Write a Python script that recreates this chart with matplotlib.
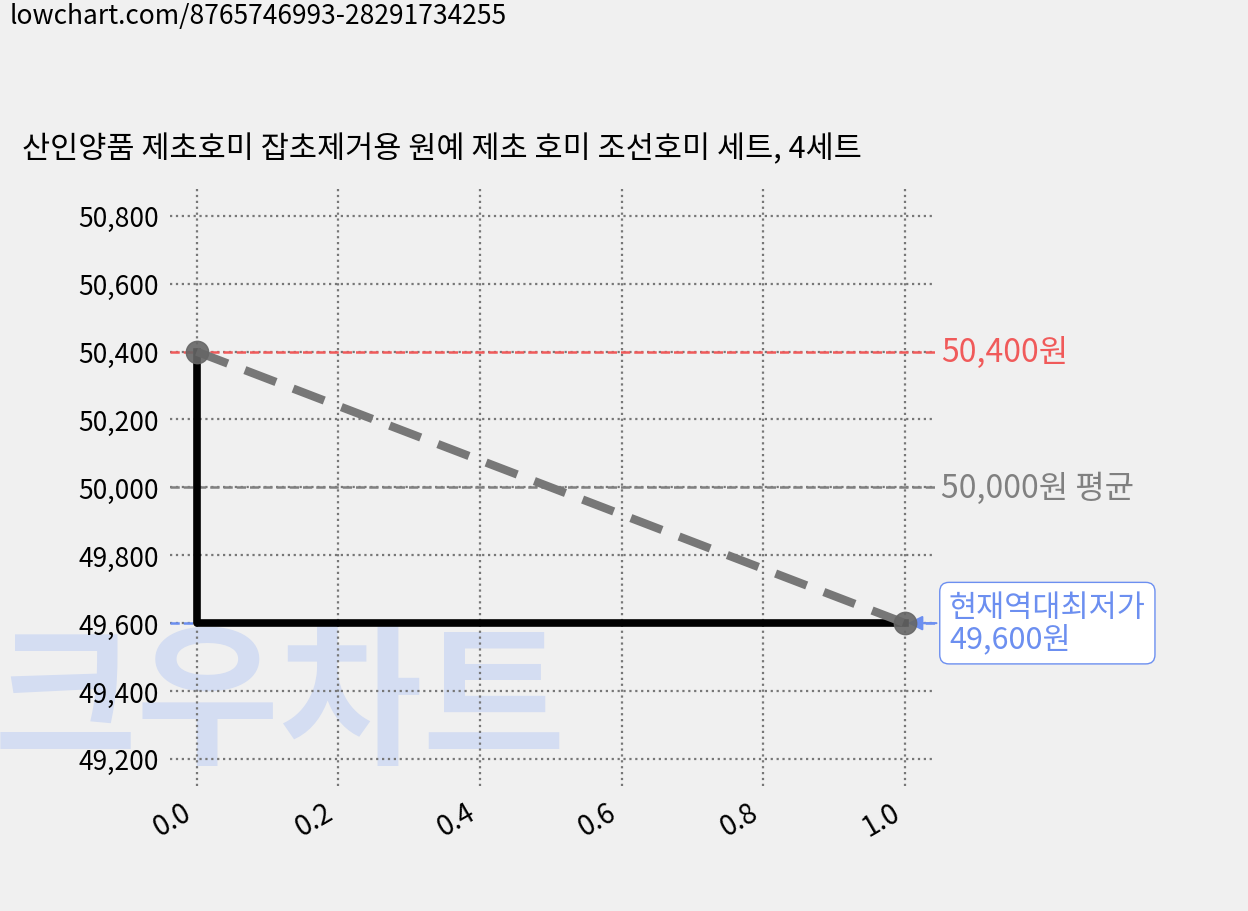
import matplotlib
matplotlib.use("Agg")
import matplotlib.pyplot as plt
from matplotlib.ticker import FuncFormatter

plt.rcParams['font.family'] = ['Noto Sans CJK KR', 'DejaVu Sans']

title = "산인양품 제초호미 잡초제거용 원예 제초 호미 조선호미 세트, 4세트"
url = "lowchart.com/8765746993-28291734255"
x_vals = [0.0, 1.0]
prices = [50400, 49600]
max_price = 50400
avg_price = 50000
min_price = 49600
yticks = [49200, 49400, 49600, 49800, 50000, 50200, 50400, 50600, 50800]
xticks = [0.0, 0.2, 0.4, 0.6, 0.8, 1.0]

bg = "#f0f0f0"
fig = plt.figure(figsize=(12.48, 9.12), dpi=100, facecolor=bg)
ax = fig.add_axes([0.136, 0.137, 0.613, 0.655], facecolor='none', zorder=2)

fig.text(0.008, 0.982, url, fontsize=19, va='center', ha='left')
fig.text(0.018, 0.836, title, fontsize=22, va='center', ha='left')
fig.text(-0.005, 0.225, "크우차트", fontsize=112, fontweight='black', color='#d4ddf2',
         va='center', ha='left', zorder=0, style='italic')

ax.grid(True, linestyle=':', color='#777777', linewidth=1.6)
for s in ax.spines.values():
    s.set_visible(False)
ax.tick_params(length=0, labelsize=19, pad=8)

ax.axhline(max_price, color='#f05a5a', linestyle='--', lw=1.8, zorder=2)
ax.axhline(avg_price, color='#808080', linestyle='--', lw=1.8, zorder=2)
ax.axhline(min_price, color='#6c8ff0', linestyle='--', lw=1.8, zorder=2)

ax.plot([x_vals[0], x_vals[0], x_vals[1]], [prices[0], prices[1], prices[1]],
        color='black', lw=5.5, zorder=3)
ax.plot(x_vals, prices, color='#777777', lw=6, linestyle=(0, (4, 2.2)), zorder=4)
ax.scatter(x_vals, prices, s=260, color='#666666', alpha=0.9, zorder=5)

ax.set_xlim(-0.038, 1.042)
ax.set_ylim(49120, 50880)
ax.set_yticks(yticks)
ax.set_xticks(xticks)
ax.yaxis.set_major_formatter(FuncFormatter(lambda v, p: f"{int(v):,}"))
ax.xaxis.set_major_formatter(FuncFormatter(lambda v, p: f"{v:.1f}"))
for lbl in ax.get_xticklabels():
    lbl.set_rotation(30)
    lbl.set_ha('right')
    lbl.set_fontsize(20)

ax.annotate(f"{max_price:,}원", xy=(1.008, max_price), xycoords=('axes fraction', 'data'),
            fontsize=23, color='#f05a5a', va='center', ha='left', annotation_clip=False)
ax.annotate(f"{avg_price:,}원 평균", xy=(1.008, avg_price), xycoords=('axes fraction', 'data'),
            fontsize=23, color='#808080', va='center', ha='left', annotation_clip=False)
ax.annotate(f"현재역대최저가\n{min_price:,}원", xy=(1.0, min_price),
            xytext=(1.062, min_price), textcoords='data',
            fontsize=22, color='#6c8ff0', va='center', ha='left', linespacing=1.05,
            bbox=dict(boxstyle='round,pad=0.3', fc='white', ec='#6c8ff0'),
            arrowprops=dict(arrowstyle='-|>', color='#6c8ff0', lw=1.5),
            annotation_clip=False)

fig.savefig("out.png", dpi=100, facecolor=bg)
